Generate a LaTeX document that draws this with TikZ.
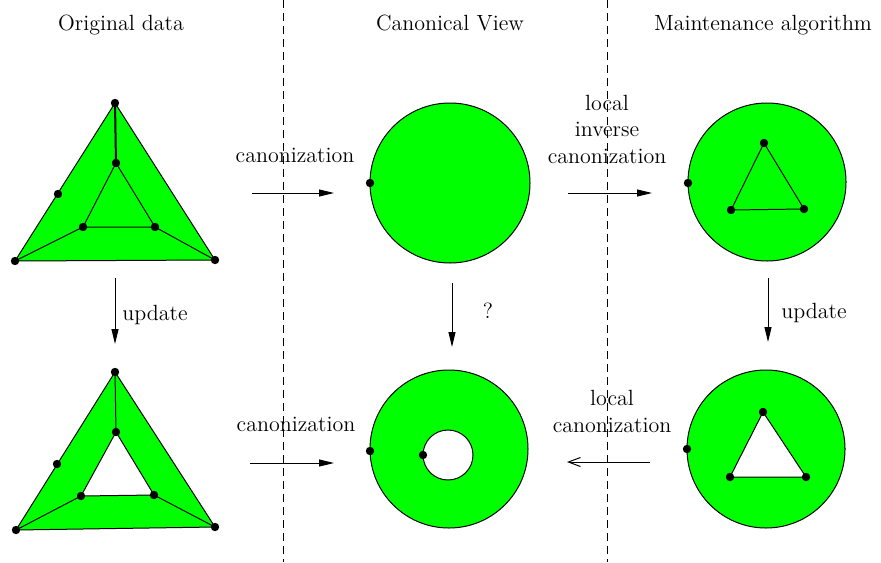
\documentclass[tikz,border=0pt]{standalone}
\usetikzlibrary{arrows.meta}
\definecolor{regionGreen}{HTML}{00FF00}

\begin{document}
\begin{tikzpicture}[x=0.5pt, y=-0.5pt,
    lbl/.style={font=\fontsize{11}{13.25}\selectfont, align=center, inner sep=0pt, anchor=base},
    region/.style={draw, line width=0.5pt, fill=regionGreen, even odd rule},
    link/.style={line width=0.5pt},
    divider/.style={line width=0.5pt, dash pattern=on 4pt off 2.5pt},
    flow/.style={-{Triangle[length=7.5pt,width=3.5pt]}, line width=0.5pt},
    backflow/.style={-{Straight Barb[length=6pt,width=4.5pt]}, line width=0.5pt},
  ]
  \useasboundingbox (0,0) rectangle (881,562);

  % column dividers
  \coordinate (d1t) at (283,0);   \coordinate (d1b) at (283,562);
  \coordinate (d2t) at (607,0);   \coordinate (d2b) at (607,562);
  \draw[divider] (d1t) -- (d1b);
  \draw[divider] (d2t) -- (d2b);

  % titles
  \node[lbl] (tOrig)  at (121,30) {Original data};
  \node[lbl] (tCanon) at (450,30) {Canonical View};
  \node[lbl] (tMaint) at (763,30) {Maintenance algorithm};

  % original data, before update
  \coordinate (ta) at (115,103); \coordinate (tb) at (15,261);
  \coordinate (tc) at (215,260); \coordinate (ti) at (116,163);
  \coordinate (tl) at (83,227);  \coordinate (tr) at (155,227);
  \coordinate (te) at (58,194);
  \filldraw[region] (ta) -- (tb) -- (tc) -- cycle;
  \draw[line width=1pt] (ta) -- (ti);
  \draw[link] (ti) -- (tl) -- (tr) -- cycle;
  \draw[link] (tl) -- (tb);
  \draw[link] (tr) -- (tc);

  % original data, after update
  \coordinate (ba) at (115,372); \coordinate (bb) at (16,530);
  \coordinate (bc) at (215,527); \coordinate (bi) at (116,432);
  \coordinate (bl) at (81,496);  \coordinate (br) at (154,495);
  \coordinate (be) at (57,464);
  \filldraw[region] (ba) -- (bb) -- (bc) -- cycle (bi) -- (bl) -- (br) -- cycle;
  \draw[link] (ba) -- (bi);
  \draw[link] (bl) -- (bb);
  \draw[link] (br) -- (bc);

  % canonical views
  \coordinate (cv1) at (450,183); \coordinate (cv1p) at (370,183);
  \filldraw[region] (cv1) circle (40pt);
  \coordinate (cv2) at (449,449); \coordinate (cv2h) at (448,455);
  \coordinate (cv2p) at (370,451); \coordinate (cv2q) at (423,455);
  \filldraw[region] (cv2) circle (39.5pt) (cv2h) circle (12.5pt);

  % maintenance algorithm
  \coordinate (m1) at (767,182); \coordinate (m1p) at (688,183);
  \coordinate (m1a) at (764,143); \coordinate (m1b) at (731,210);
  \coordinate (m1c) at (804,209);
  \filldraw[region] (m1) circle (39.5pt);
  \draw[link] (m1a) -- (m1b) -- (m1c) -- cycle;
  \coordinate (m2) at (766,449); \coordinate (m2p) at (687,449);
  \coordinate (m2a) at (763,412); \coordinate (m2b) at (730,477);
  \coordinate (m2c) at (806,477);
  \filldraw[region] (m2) circle (39.5pt) (m2a) -- (m2b) -- (m2c) -- cycle;

  \foreach \v in {ta,tb,tc,ti,tl,tr,te,ba,bb,bc,bi,bl,br,be,
                  cv1p,cv2p,cv2q,m1p,m1a,m1b,m1c,m2p,m2a,m2b,m2c}
    \fill (\v) circle (2.1pt);

  % transitions
  \coordinate (a1s) at (252,193); \coordinate (a1e) at (334,193);
  \coordinate (a2s) at (568,193); \coordinate (a2e) at (652,193);
  \coordinate (a3s) at (250,463); \coordinate (a3e) at (334,463);
  \coordinate (a4s) at (650,462); \coordinate (a4e) at (567,462);
  \coordinate (u1s) at (115,278); \coordinate (u1e) at (115,344);
  \coordinate (u2s) at (452,283); \coordinate (u2e) at (452,347);
  \coordinate (u3s) at (768,278); \coordinate (u3e) at (768,342);
  \draw[flow] (a1s) -- (a1e);
  \draw[flow] (a2s) -- (a2e);
  \draw[flow] (a3s) -- (a3e);
  \draw[backflow] (a4s) -- (a4e);
  \draw[flow] (u1s) -- (u1e);
  \draw[flow] (u2s) -- (u2e);
  \draw[flow] (u3s) -- (u3e);

  \node[lbl] (lCan1) at (295,162) {canonization};
  \node[lbl] (lInv)  at (607,163) {local\\inverse\\canonization};
  \node[lbl] (lCan2) at (296,431) {canonization};
  \node[lbl] (lLoc)  at (612,432) {local\\canonization};
  \node[lbl] (lUpd1) at (155,320) {update};
  \node[lbl] (lQ)    at (488,318) {?};
  \node[lbl] (lUpd2) at (814,318) {update};
\end{tikzpicture}
\end{document}
